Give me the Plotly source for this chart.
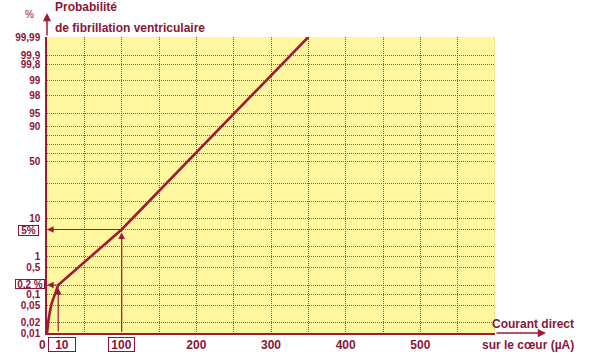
import numpy as np
import plotly.graph_objects as go

# ---- probability scale of the chart (as drawn) ----
scale_prob = [0.01, 0.02, 0.05, 0.1, 0.2, 0.5, 1, 2, 5, 10, 20, 30, 50,
              60, 70, 80, 90, 95, 98, 99, 99.8, 99.9, 99.99]
scale_pos = [0, 10.3, 28, 38.5, 48, 65.5, 76.3, 86.3, 103.5, 114.7, 132, 149.3, 171.5,
             180, 188.7, 197.5, 206.5, 219.7, 237.3, 252.3, 268.5, 278, 296]
scale_text = ["0,01", "0,02", "0,05", "0,1", "", "0,5", "1", "", "", "10", "", "", "50",
              "", "", "", "90", "95", "98", "99", "99,8", "99,9", "99,99"]

# ---- x axis ----
x_grid = [0, 50, 100, 150, 200, 250, 300, 350, 400, 450, 500, 550]
x_text = ["", "", "", "", "200", "", "300", "", "400", "", "500", ""]

# ---- curve: probability of ventricular fibrillation vs current ----
current_uA = [0, 0.7, 2, 4, 6.5, 9.5, 12.5, 15, 100, 350]
prob_pct = [0.01, 0.015, 0.025, 0.04, 0.06, 0.09, 0.14, 0.2, 5, 99.99]

# marked readings
mark_current = [15, 100]
mark_prob = [0.2, 5]
mark_current_text = ["10", "100"]
mark_prob_text = ["0,2 %", "5%"]


def to_pos(p):
    return np.interp(p, scale_prob, scale_pos)


TXT = "#8a1538"
LINE = "#9e1b32"
GRID = "#9a5a3a"
FONT = "Liberation Sans"

L, R, T, B = 47, 97, 37, 21
W, H = 592, 354
PW, PH = W - L - R, H - T - B


def px_x(p):
    return (p - L) / PW


def px_y(p):
    return (T + PH - p) / PH


fig = go.Figure()
fig.add_trace(go.Scatter(x=current_uA, y=to_pos(prob_pct), mode="lines",
                         line=dict(color=LINE, width=2.6), hoverinfo="skip",
                         showlegend=False))

ann = []
# reading arrows
for c, p in zip(mark_current, mark_prob):
    yp = float(to_pos(p))
    ann.append(dict(x=0, y=yp, xref="x", yref="y", ax=c, ay=yp, axref="x", ayref="y",
                    text="", showarrow=True, arrowhead=2, arrowsize=1.1,
                    arrowwidth=1.2, arrowcolor=LINE))
    ann.append(dict(x=c, y=yp, xref="x", yref="y", ax=c, ay=0, axref="x", ayref="y",
                    text="", showarrow=True, arrowhead=2, arrowsize=1.1,
                    arrowwidth=1.2, arrowcolor=LINE, standoff=3))

# axis arrow extensions
ann.append(dict(x=0, y=px_y(13), xref="x", yref="paper", ax=0, ay=24,
                text="", showarrow=True, arrowhead=2, arrowsize=1.1,
                arrowwidth=1.5, arrowcolor=LINE))
ann.append(dict(x=px_x(546), y=0, xref="paper", yref="paper", ax=-51, ay=0,
                text="", showarrow=True, arrowhead=2, arrowsize=1.1,
                arrowwidth=1.5, arrowcolor=LINE))

bold = dict(family=FONT, size=12, color=TXT, weight="bold")
for x, y, t in [(53, 7, "Probabilité"), (53, 28, "de fibrillation ventriculaire"),
                (490, 323.5, "Courant direct"), (480, 344.5, "sur le cœur (µA)")]:
    ann.append(dict(x=px_x(x), y=px_y(y), xref="paper", yref="paper", text=t,
                    xanchor="left", yanchor="middle", showarrow=False, font=bold))

ann.append(dict(x=px_x(29.5), y=px_y(15), xref="paper", yref="paper", text="%",
                xanchor="center", yanchor="middle",
                showarrow=False, font=dict(family=FONT, size=10, color=TXT)))
ann.append(dict(x=px_x(42.5), y=px_y(344.5), xref="paper", yref="paper", text="0",
                xanchor="center", yanchor="middle",
                showarrow=False, font=dict(family=FONT, size=12, color=TXT, weight="bold")))

# boxed reading labels
box_big = dict(family=FONT, size=12, color=TXT, weight="bold")
box_small = dict(family=FONT, size=10, color=TXT, weight="bold")
for x, y, t, w, h, f in [(62, 344.3, mark_current_text[0], 26, 13, box_big),
                         (121.3, 344.3, mark_current_text[1], 25, 13, box_big),
                         (29.5, 284.3, mark_prob_text[0], 28, 8, box_small),
                         (28.3, 230.3, mark_prob_text[1], 19, 9, box_small)]:
    ann.append(dict(x=px_x(x), y=px_y(y), xref="paper", yref="paper", text=t,
                    xanchor="center", yanchor="middle", showarrow=False, font=f,
                    width=w, height=h, borderpad=0, bordercolor=TXT, borderwidth=1,
                    bgcolor="white"))

fig.update_layout(
    width=W, height=H, margin=dict(l=L, r=R, t=T, b=B, autoexpand=False),
    paper_bgcolor="white", plot_bgcolor="#fff6a0",
    annotations=ann, showlegend=False,
    shapes=[dict(type="line", xref="x", yref="paper", x0=600, x1=600, y0=0, y1=1,
                 line=dict(color="#e8d888", width=1))],
)
fig.update_xaxes(range=[0, 600], tickmode="array", tickvals=x_grid, ticktext=x_text,
                 showgrid=True, gridcolor=GRID, griddash="1px,1px", gridwidth=1,
                 showline=True, linecolor=LINE, linewidth=1.5, ticks="", zeroline=False,
                 ticklabelstandoff=0, automargin=False,
                 tickfont=dict(family=FONT, size=12, color=TXT, weight="bold"),
                 fixedrange=True)
fig.update_yaxes(range=[0, 296], tickmode="array", tickvals=scale_pos, ticktext=scale_text,
                 showgrid=True, gridcolor=GRID, griddash="1px,1px", gridwidth=1,
                 showline=True, linecolor=LINE, linewidth=1.5, ticks="", zeroline=False,
                 ticklabelstandoff=3, automargin=False,
                 tickfont=dict(family=FONT, size=10, color=TXT, weight="bold"),
                 fixedrange=True)

fig.write_html("out.html")
